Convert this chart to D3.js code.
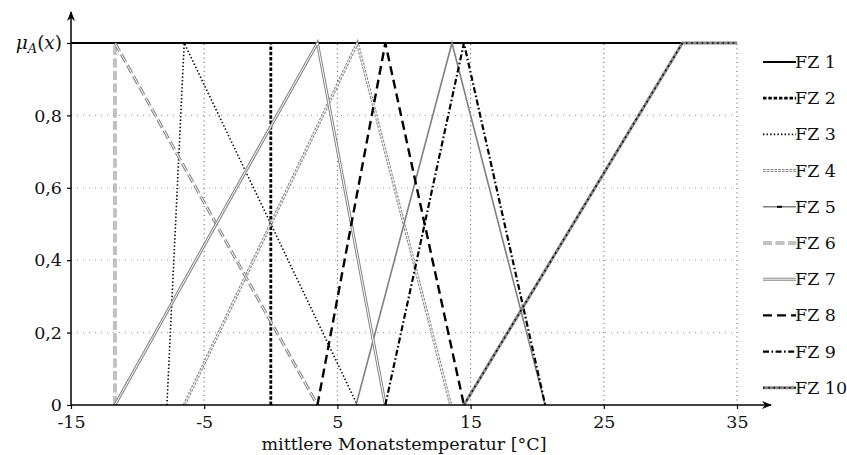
<!DOCTYPE html>
<html lang="de">
<head>
    <meta charset="UTF-8">
    <title>Zugehörigkeitsfunktionen</title>
    <script src="https://d3js.org/d3.v7.min.js"></script>
    <style>
        body {
            margin: 0;
            background-color: #ffffff;
        }
        svg text {
            font-family: "DejaVu Serif", serif;
            fill: #111;
        }
    </style>
</head>
<body>
    <svg id="chart" width="847" height="455"></svg>
    <script>
        // Fuzzy set names and their breakpoints (x = temperature, y = membership)
        const fzNames = ['FZ 1', 'FZ 2', 'FZ 3', 'FZ 4', 'FZ 5', 'FZ 6', 'FZ 7', 'FZ 8', 'FZ 9', 'FZ 10'];
        const fzX = [
            [-15, 35],
            [0, 0],
            [-7.8, -6.5, 6.5],
            [-6.5, 6.5, 13.5],
            [6.4, 13.6, 20.6],
            [-11.7, -11.7, 3.5],
            [-11.7, 3.5, 8.6],
            [3.5, 8.6, 14.5],
            [8.6, 14.5, 20.6],
            [14.5, 30.9, 35]
        ];
        const fzY = [
            [1, 1],
            [0, 1],
            [0, 1, 0],
            [0, 1, 0],
            [0, 1, 0],
            [0, 1, 0],
            [0, 1, 0],
            [0, 1, 0],
            [0, 1, 0],
            [0, 1, 1]
        ];
        const xTicks = [-15, -5, 5, 15, 25, 35];
        const yTicks = [0, 0.2, 0.4, 0.6, 0.8, 1];

        // line styles: base stroke plus optional white/black inner stroke
        const styles = [
            { color: '#000', width: 2.2, dash: null },
            { color: '#000', width: 2.8, dash: '3.5,1.8' },
            { color: '#000', width: 1.6, dash: '1.4,2.2' },
            { color: '#858585', width: 3, dash: '2.6,1.2', inner: '#fff', innerWidth: 1 },
            { color: '#808080', width: 1.6, dash: null },
            { color: '#858585', width: 3, dash: '9,3.5', inner: '#fff', innerWidth: 1 },
            { color: '#858585', width: 3, dash: null, inner: '#fff', innerWidth: 1 },
            { color: '#000', width: 2.4, dash: '9,5' },
            { color: '#000', width: 2.2, dash: '6,2.5,1.6,2.5' },
            { color: '#858585', width: 3, dash: null, inner: '#000', innerWidth: 1.6, innerDash: '1.6,3.6' }
        ];

        const svg = d3.select('#chart');
        const x = d3.scaleLinear().domain([-15, 35]).range([71, 737]);
        const y = d3.scaleLinear().domain([0, 1]).range([405, 43]);

        // grid
        svg.append('g').selectAll('line')
            .data(xTicks.slice(1))
            .join('line')
            .attr('x1', d => x(d)).attr('x2', d => x(d))
            .attr('y1', y(0)).attr('y2', y(1))
            .attr('stroke', '#555').attr('stroke-width', 1)
            .attr('stroke-dasharray', '1,3.5');
        svg.append('g').selectAll('line')
            .data([0.2, 0.4, 0.6, 0.8])
            .join('line')
            .attr('x1', x(-15)).attr('x2', x(35))
            .attr('y1', d => y(d)).attr('y2', d => y(d))
            .attr('stroke', '#999').attr('stroke-width', 1)
            .attr('stroke-dasharray', '1,5');

        // axes
        const xAxis = d3.axisBottom(x).tickValues(xTicks).tickSize(4).tickPadding(7)
            .tickFormat(d => String(d));
        const gx = svg.append('g').attr('transform', `translate(0,${y(0)})`).call(xAxis);
        const yAxis = d3.axisLeft(y).tickValues(yTicks).tickSize(4).tickPadding(5)
            .tickFormat(d => d === 0 ? '0' : d === 1 ? '' : d3.format('.1f')(d).replace('.', ','));
        const gy = svg.append('g').attr('transform', `translate(${x(-15)},0)`).call(yAxis);
        [gx, gy].forEach(g => {
            g.select('.domain').remove();
            g.selectAll('.tick line').attr('stroke', '#000').attr('stroke-width', 1.2);
            g.selectAll('.tick text').attr('font-size', 17.5).attr('font-family', '"DejaVu Serif", serif').attr('fill', '#111');
        });

        // curves
        const line = d3.line().x(d => x(d[0])).y(d => y(d[1]));
        const curves = svg.append('g').attr('fill', 'none');
        fzX.forEach((xs, i) => {
            const pts = xs.map((v, j) => [v, fzY[i][j]]);
            const s = styles[i];
            curves.append('path')
                .attr('d', line(pts))
                .attr('stroke', s.color)
                .attr('stroke-width', s.width)
                .attr('stroke-dasharray', s.dash)
                .attr('stroke-linejoin', 'miter');
            if (s.inner) {
                curves.append('path')
                    .attr('d', line(pts))
                    .attr('stroke', s.inner)
                    .attr('stroke-width', s.innerWidth)
                    .attr('stroke-dasharray', s.innerDash || s.dash);
            }
        });

        // axis lines with arrows
        svg.append('defs').append('marker')
            .attr('id', 'arrow').attr('viewBox', '0 0 10 10')
            .attr('refX', 9).attr('refY', 5)
            .attr('markerWidth', 10).attr('markerHeight', 10)
            .attr('markerUnits', 'userSpaceOnUse')
            .attr('orient', 'auto')
            .append('path').attr('d', 'M0,1 L10,5 L0,9 L3,5 Z').attr('fill', '#000');
        svg.append('line')
            .attr('x1', x(-15)).attr('x2', 771)
            .attr('y1', y(0)).attr('y2', y(0))
            .attr('stroke', '#000').attr('stroke-width', 1.5)
            .attr('marker-end', 'url(#arrow)');
        svg.append('line')
            .attr('x1', x(-15)).attr('x2', x(-15))
            .attr('y1', y(0) + 0.7).attr('y2', 12)
            .attr('stroke', '#000').attr('stroke-width', 1.5)
            .attr('marker-end', 'url(#arrow)');

        // y label mu_A(x)
        const mu = svg.append('text')
            .attr('x', 62).attr('y', y(1) + 6)
            .attr('text-anchor', 'end')
            .attr('font-size', 18.5);
        mu.append('tspan').attr('font-style', 'italic').text('μ');
        mu.append('tspan').attr('font-style', 'italic').attr('font-size', 13).attr('dy', 4).text('A');
        mu.append('tspan').attr('dy', -4).text('(');
        mu.append('tspan').attr('font-style', 'italic').text('x');
        mu.append('tspan').text(')');

        // x label
        svg.append('text')
            .attr('x', x(10)).attr('y', 450)
            .attr('text-anchor', 'middle')
            .attr('font-size', 17.5)
            .text('mittlere Monatstemperatur [°C]');

        // legend
        const legend = svg.append('g');
        fzNames.forEach((name, i) => {
            const ly = 62 + i * 36.2;
            const s = styles[i];
            legend.append('line')
                .attr('x1', 763).attr('x2', 796).attr('y1', ly).attr('y2', ly)
                .attr('stroke', s.color).attr('stroke-width', s.width)
                .attr('stroke-dasharray', s.dash);
            if (s.inner) {
                legend.append('line')
                    .attr('x1', 763).attr('x2', 796).attr('y1', ly).attr('y2', ly)
                    .attr('stroke', s.inner).attr('stroke-width', s.innerWidth)
                    .attr('stroke-dasharray', s.innerDash || s.dash);
            }
            if (i === 4) {
                legend.append('line')
                    .attr('x1', 777).attr('x2', 782).attr('y1', ly).attr('y2', ly)
                    .attr('stroke', '#000').attr('stroke-width', 2);
            }
            legend.append('text')
                .attr('x', 795).attr('y', ly + 6)
                .attr('font-size', 17.5)
                .text(name);
        });
    </script>
</body>
</html>
